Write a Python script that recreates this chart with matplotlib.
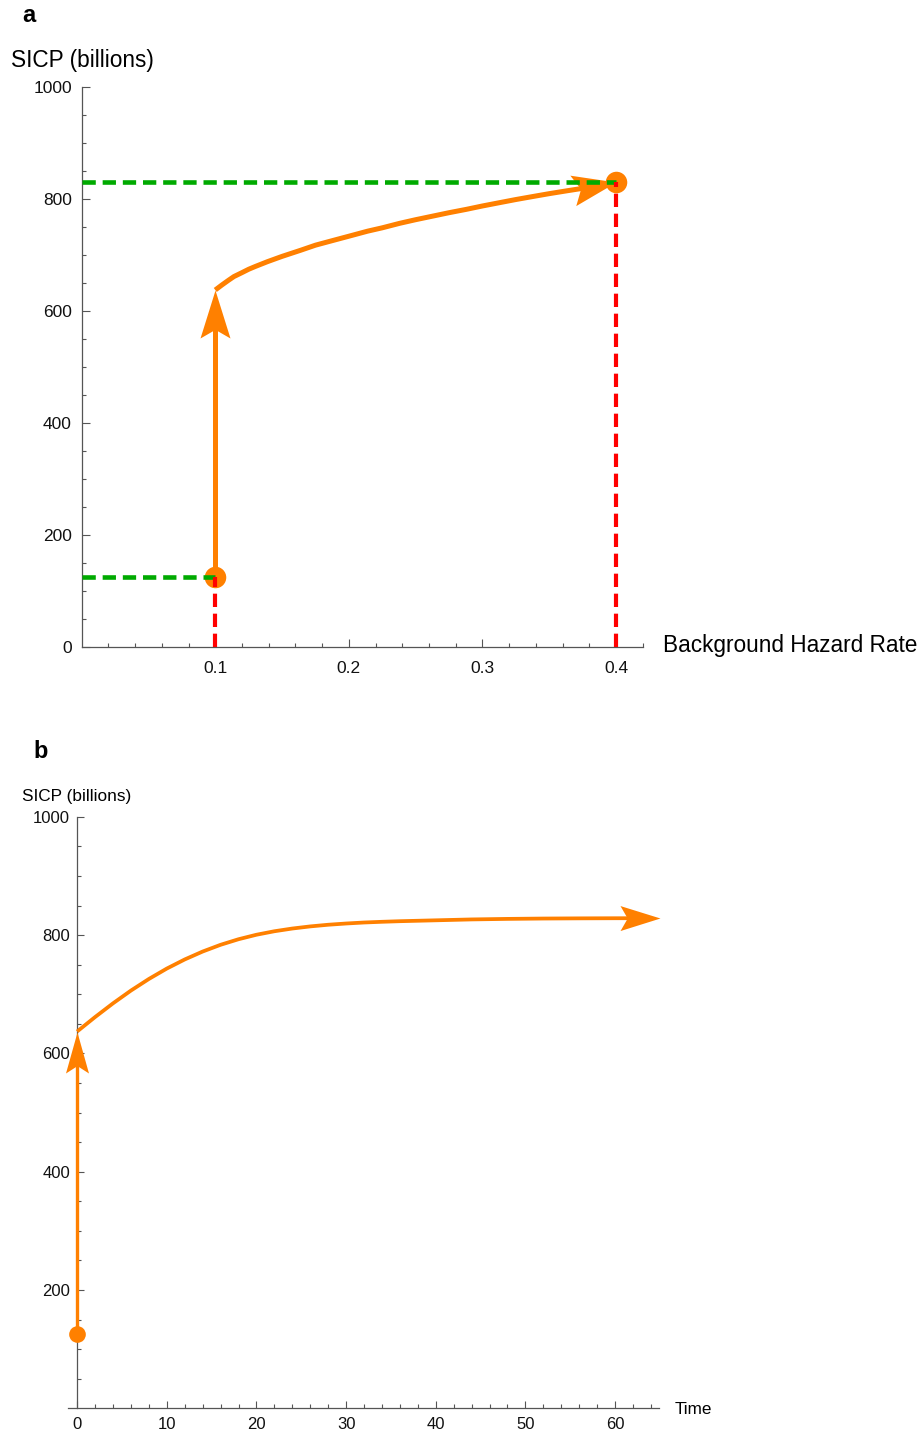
import numpy as np
import matplotlib
matplotlib.use('Agg')
import matplotlib.pyplot as plt
from matplotlib.path import Path
from matplotlib.markers import MarkerStyle

plt.rcParams['font.family'] = ['Liberation Sans', 'DejaVu Sans']

# Panel a: SICP vs background hazard rate
hazard_start = 0.1
hazard_end = 0.4
sicp_start = 125
sicp_jump = 637
sicp_end = 830
hazard_curve = [0.100, 0.105, 0.110, 0.114, 0.120, 0.125, 0.130, 0.139, 0.150, 0.164,
                0.175, 0.189, 0.200, 0.214, 0.225, 0.238, 0.250, 0.263, 0.275, 0.288,
                0.300, 0.313, 0.325, 0.338, 0.350, 0.363, 0.375, 0.393, 0.400]
sicp_curve_a = [637, 646, 654.5, 661, 668, 674, 679, 687.5, 697, 708,
                717, 726, 733, 742, 748, 756, 762.5, 769, 775, 781,
                787, 793, 798.5, 804, 809, 814, 818.5, 825, 830]

# Panel b: SICP vs time
time_start = 0
time_curve = [0, 2, 4, 6, 8, 10, 12, 14, 16, 18, 20, 22, 24, 26, 28, 30, 32, 34, 36,
              40, 44, 48, 52, 56, 60, 65]
sicp_curve_b = [637, 661.4, 684.6, 706.2, 725.8, 743.4, 758.8, 772.2, 783.6, 793.0,
                800.6, 806.5, 811.1, 814.7, 817.5, 819.6, 821.3, 822.5, 823.5,
                825.0, 826.5, 827.4, 828.0, 828.3, 828.5, 828.6]

ORANGE = '#ff8000'
GREEN = '#00aa00'
RED = '#ff0000'
AXCOL = '#555555'
W, H = 920, 1435
PX_PER_PT = 100 / 72.0


def trim(ax, xs, ys, cut_px):
    # shorten a line by cut_px (display pixels) at its end
    pts = ax.transData.transform(np.column_stack([xs, ys]))
    seg = np.hypot(*np.diff(pts, axis=0).T)
    dist = np.concatenate([np.cumsum(seg[::-1])[::-1], [0.0]])
    last = np.where(dist > cut_px)[0][-1]
    t = (dist[last] - cut_px) / (dist[last] - dist[last + 1])
    p = pts[last] + t * (pts[last + 1] - pts[last])
    out = np.vstack([pts[:last + 1], p])
    return ax.transData.inverted().transform(out).T


def arrow_line(ax, xs, ys, lw, L, Wd):
    # line plus a notched arrowhead (L, Wd in pixels) at the end
    tx, ty = trim(ax, xs, ys, 0.75 * L)
    ax.plot(tx, ty, color=ORANGE, lw=lw, solid_capstyle='butt', solid_joinstyle='round',
            clip_on=False, zorder=3)
    p1 = ax.transData.transform((tx[-1], ty[-1]))
    p2 = ax.transData.transform((xs[-1], ys[-1]))
    ang = np.arctan2(p2[1] - p1[1], p2[0] - p1[0])
    w = Wd / L / 2
    verts = np.array([[0, 0], [-1, w], [-0.82, 0], [-1, -w], [0, 0]])
    c, s = np.cos(ang), np.sin(ang)
    rot = verts @ np.array([[c, s], [-s, c]])
    r = np.abs(rot).max()
    path = Path(rot, [Path.MOVETO, Path.LINETO, Path.LINETO, Path.LINETO, Path.CLOSEPOLY])
    ax.plot([xs[-1]], [ys[-1]], marker=MarkerStyle(path), markersize=2 * L / PX_PER_PT * r,
            color=ORANGE, mew=0, clip_on=False, zorder=4)


def style_axes(ax, fs, major_len, minor_len, xpad, ypad):
    for sp in ['top', 'right']:
        ax.spines[sp].set_visible(False)
    for sp in ['left', 'bottom']:
        ax.spines[sp].set_color(AXCOL)
        ax.spines[sp].set_linewidth(0.9)
    ax.tick_params(which='both', direction='in', color=AXCOL, width=0.8, labelsize=fs,
                   labelcolor='#111111')
    ax.tick_params(which='major', length=major_len)
    ax.tick_params(which='minor', length=minor_len)
    ax.tick_params(axis='x', pad=xpad)
    ax.tick_params(axis='y', pad=ypad)
    ax.patch.set_visible(False)


fig = plt.figure(figsize=(9.2, 14.35), dpi=100)

# ---- panel a ----
ax = fig.add_axes([81.7 / W, 1 - 646.7 / H, (642.7 - 81.7) / W, (646.7 - 86.7) / H])
ax.set_xlim(0, 0.42)
ax.set_ylim(0, 1000)
ax.set_xticks([0.1, 0.2, 0.3, 0.4])
ax.set_xticks(np.arange(0.02, 0.421, 0.02), minor=True)
ax.set_yticks(np.arange(0, 1001, 200))
ax.set_yticks(np.arange(0, 1001, 50), minor=True)
ax.set_xticklabels(['0.1', '0.2', '0.3', '0.4'])
style_axes(ax, 12.5, 6, 3, 10, 7)

arrow_line(ax, [hazard_start, hazard_start], [sicp_start, sicp_jump], 3.6, 48, 30)
arrow_line(ax, hazard_curve, sicp_curve_a, 3.6, 44, 31)
ax.plot([hazard_start], [sicp_start], 'o', color=ORANGE, ms=15.5, mew=0, zorder=5, clip_on=False)
ax.plot([hazard_end], [sicp_end], 'o', color=ORANGE, ms=15.5, mew=0, zorder=5, clip_on=False)

ax.plot([0, hazard_start], [sicp_start, sicp_start], color=GREEN, lw=3.3, dashes=(2.9, 1.5),
        zorder=6, clip_on=False)
ax.plot([0, hazard_end], [sicp_end, sicp_end], color=GREEN, lw=3.3, dashes=(2.9, 1.5),
        zorder=6, clip_on=False)
ax.plot([hazard_start, hazard_start], [0, sicp_start], color=RED, lw=3.0, dashes=(3.2, 1.6),
        zorder=6, clip_on=False)
ax.plot([hazard_end, hazard_end], [0, sicp_end], color=RED, lw=3.0, dashes=(3.2, 1.6),
        zorder=6, clip_on=False)

fig.text(22 / W, 1 - 16 / H, 'a', fontsize=17, fontweight='bold', va='center', ha='left')
fig.text(11 / W, 1 - 60 / H, 'SICP (billions)', fontsize=16.3, va='center', ha='left')
fig.text(663 / W, 1 - 645 / H, 'Background Hazard Rate', fontsize=16.3, va='center', ha='left')

# ---- panel b ----
bx = fig.add_axes([67.7 / W, 1 - 1408.3 / H, (659 - 67.7) / W, (1408.3 - 816.8) / H])
bx.set_xlim(-1.05, 64.9)
bx.set_ylim(0, 1000)
bx.spines['left'].set_position(('data', 0))
bx.set_xticks(np.arange(0, 61, 10))
bx.set_xticks(np.arange(0, 65, 2), minor=True)
bx.set_yticks(np.arange(200, 1001, 200))
bx.set_yticks(np.arange(50, 1001, 50), minor=True)
style_axes(bx, 12, 5, 3, 6, 5)

arrow_line(bx, [time_start, time_start], [sicp_start, sicp_jump], 2.4, 41, 23)
arrow_line(bx, time_curve, sicp_curve_b, 2.7, 40, 25)
bx.plot([time_start], [sicp_start], 'o', color=ORANGE, ms=12, mew=0, zorder=5, clip_on=False)

fig.text(33 / W, 1 - 752 / H, 'b', fontsize=17, fontweight='bold', va='center', ha='left')
fig.text(22 / W, 1 - 797 / H, 'SICP (billions)', fontsize=12.4, va='center', ha='left')
fig.text(675 / W, 1 - 1410 / H, 'Time', fontsize=12.3, va='center', ha='left')

fig.savefig('out.png', dpi=100)
